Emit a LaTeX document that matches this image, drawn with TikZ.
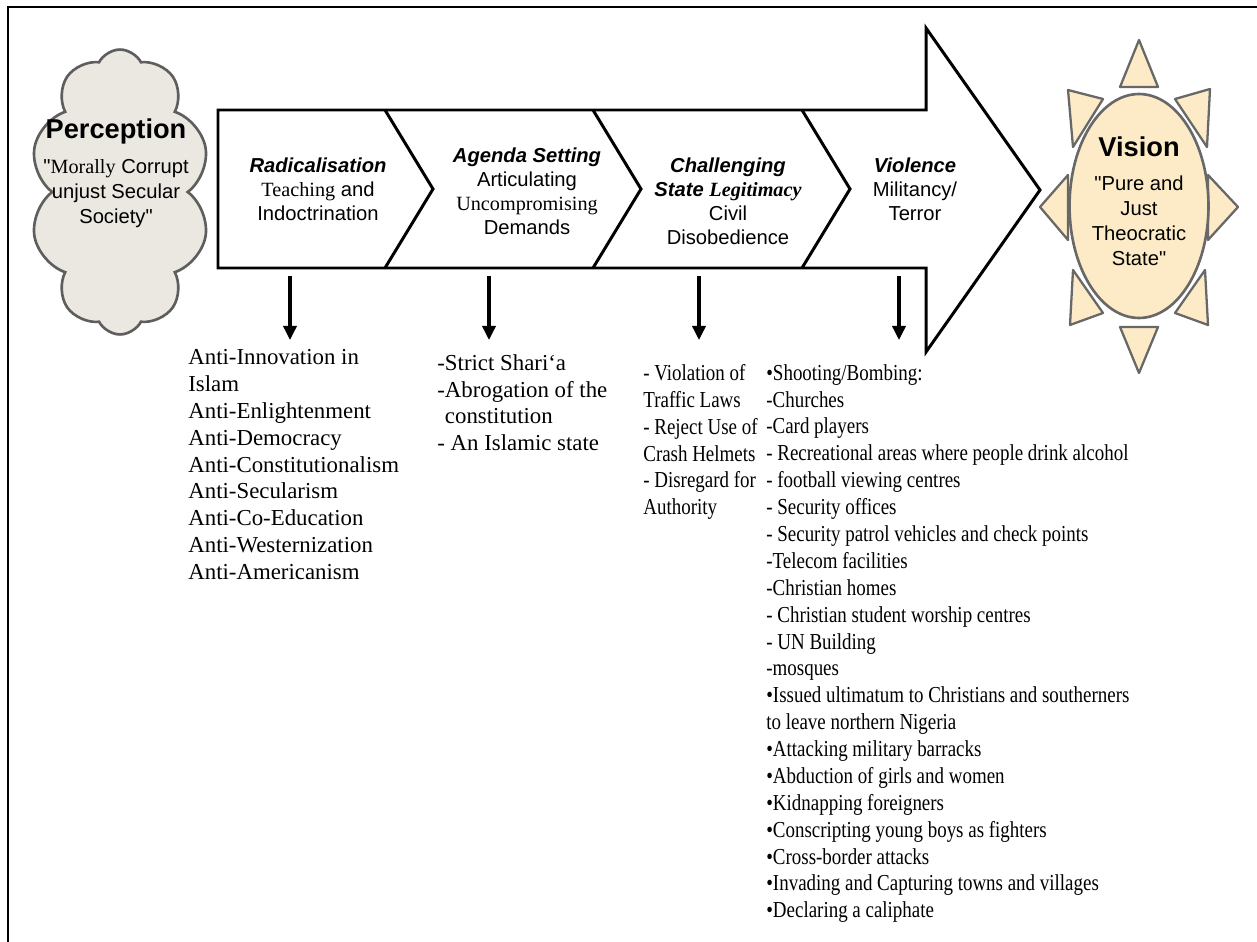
\documentclass[tikz,border=0pt]{standalone}
\usepackage{fontspec}
\setmainfont{Liberation Serif}
\setsansfont{Liberation Sans}
\newfontfamily\narrowserif[FakeStretch=0.83]{Liberation Serif}
\usetikzlibrary{arrows.meta,shapes.geometric,shapes.symbols}

\definecolor{cloudfill}{HTML}{EBE8E2}
\definecolor{cloudline}{HTML}{5E5E5E}
\definecolor{sunfill}{HTML}{FCEBC6}
\definecolor{sunline}{HTML}{686868}

\begin{document}
\begin{tikzpicture}[
  x=0.02cm, y=-0.02cm,
  stage/.style={align=center, inner sep=0pt,
                font=\sffamily\fontsize{11.5}{13.6}\selectfont},
  listbox/.style={align=left, anchor=north west, inner sep=0pt,
                  font=\fontsize{13}{15.3}\selectfont},
  narrowlist/.style={listbox, font=\narrowserif\fontsize{13}{15.3}\selectfont},
  drop/.style={-{Triangle[length=8pt,width=7.5pt]}, line width=1.8pt},
  ray/.style={draw=sunline, fill=sunfill, line width=1.3pt, line join=round},
  cloudbox/.style={cloud, cloud puffs=10, cloud puff arc=125, cloud ignores aspect,
                   draw=cloudline, fill=cloudfill, line width=1.5pt,
                   minimum width=3.6cm, minimum height=5.7cm},
  title/.style={font=\sffamily\bfseries\fontsize{15.5}{18}\selectfont}
]
  \useasboundingbox (0,0) rectangle (1257,942);
  \draw[line width=1.7pt] (8,942) -- (8,7) -- (1257,7);

  % perception cloud
  \node[cloudbox] (perc) at (120,192) {};
  \node[stage, font=\sffamily\fontsize{11.5}{14.2}\selectfont] (perctext) at (116,173)
    {{\usefont{TU}{\sfdefault}{b}{n}\fontsize{15.5}{18}\selectfont Perception}\\[6pt]
     \textquotedbl{\rmfamily Morally} Corrupt\\unjust Secular\\Society\textquotedbl};

  % big arrow and chevrons
  \draw[line width=1.7pt, line join=miter, fill=white]
    (218,110) -- (926,110) -- (926,28) -- (1040,190) -- (926,352)
    -- (926,268) -- (218,268) -- cycle;
  \foreach \x in {385,593,802}
    \draw[line width=1.7pt] (\x,110) -- (\x+48,189) -- (\x,268);

  \node[stage] (rad) at (318,189)
    {\textbf{\textit{Radicalisation}}\\{\rmfamily Teaching} and\\Indoctrination};
  \node[stage] (agenda) at (527,191)
    {\textbf{\textit{Agenda Setting}}\\Articulating\\{\rmfamily Uncompromising}\\Demands};
  \node[stage] (chall) at (728,201)
    {\textbf{\textit{Challenging}}\\\textbf{\textit{State {\rmfamily Legitimacy}}}\\Civil\\Disobedience};
  \node[stage] (viol) at (915,189)
    {\textbf{\textit{Violence}}\\Militancy/\\Terror};

  % vision sun
  \foreach \ax/\ay/\bx/\by/\cx/\cy in {1120/87/1158/87/1139/40, 1120/327/1158/327/1139/373,
                        1068/175/1068/240/1040/207, 1208/175/1208/240/1238/207,
                        1068/90/1103/99/1073/147, 1210/89/1175/99/1207/147,
                        1073/270/1103/313/1070/325, 1205/270/1175/313/1208/325}
    \filldraw[ray] (\ax,\ay) -- (\bx,\by) -- (\cx,\cy) -- cycle;
  \node[ellipse, draw=sunline, fill=sunfill, line width=1.5pt,
        minimum width=2.78cm, minimum height=4.48cm] (sun) at (1139,206) {};
  \node[stage, font=\sffamily\fontsize{11.5}{14.2}\selectfont] (suntext) at (1139,201)
    {{\usefont{TU}{\sfdefault}{b}{n}\fontsize{15.5}{18}\selectfont Vision}\\[5pt]
     \textquotedbl Pure and\\Just\\Theocratic\\State\textquotedbl};

  % lists under the stages
  \node[listbox] (l1) at (188,349)
    {Anti-Innovation in\\Islam\\Anti-Enlightenment\\Anti-Democracy\\
     Anti-Constitutionalism\\Anti-Secularism\\Anti-Co-Education\\
     Anti-Westernization\\Anti-Americanism};
  \node[listbox] (l2) at (437,354)
    {-Strict Shari‘a\\-Abrogation of the\\\phantom{-}constitution\\- An Islamic state};
  \node[narrowlist] (l3) at (643,364)
    {- Violation of\\Traffic Laws\\- Reject Use of\\Crash Helmets\\- Disregard for\\Authority};
  \node[narrowlist] (l4) at (766,364)
    {•Shooting/Bombing:\\-Churches\\-Card players\\
     - Recreational areas where people drink alcohol\\- football viewing centres\\
     - Security offices\\- Security patrol vehicles and check points\\
     -Telecom facilities\\-Christian homes\\- Christian student worship centres\\
     - UN Building\\-mosques\\•Issued ultimatum to Christians and southerners\\
     to leave northern Nigeria\\•Attacking military barracks\\
     •Abduction of girls and women\\•Kidnapping foreigners\\
     •Conscripting young boys as fighters\\•Cross-border attacks\\
     •Invading and Capturing towns and villages\\•Declaring a caliphate};

  \foreach \i/\x in {1/290,2/489,3/699,4/899} {
    \coordinate (top\i) at (\x,276);
    \coordinate (end\i) at (\x,340);
    \draw[drop] (top\i) -- (end\i);
  }
\end{tikzpicture}
\end{document}
